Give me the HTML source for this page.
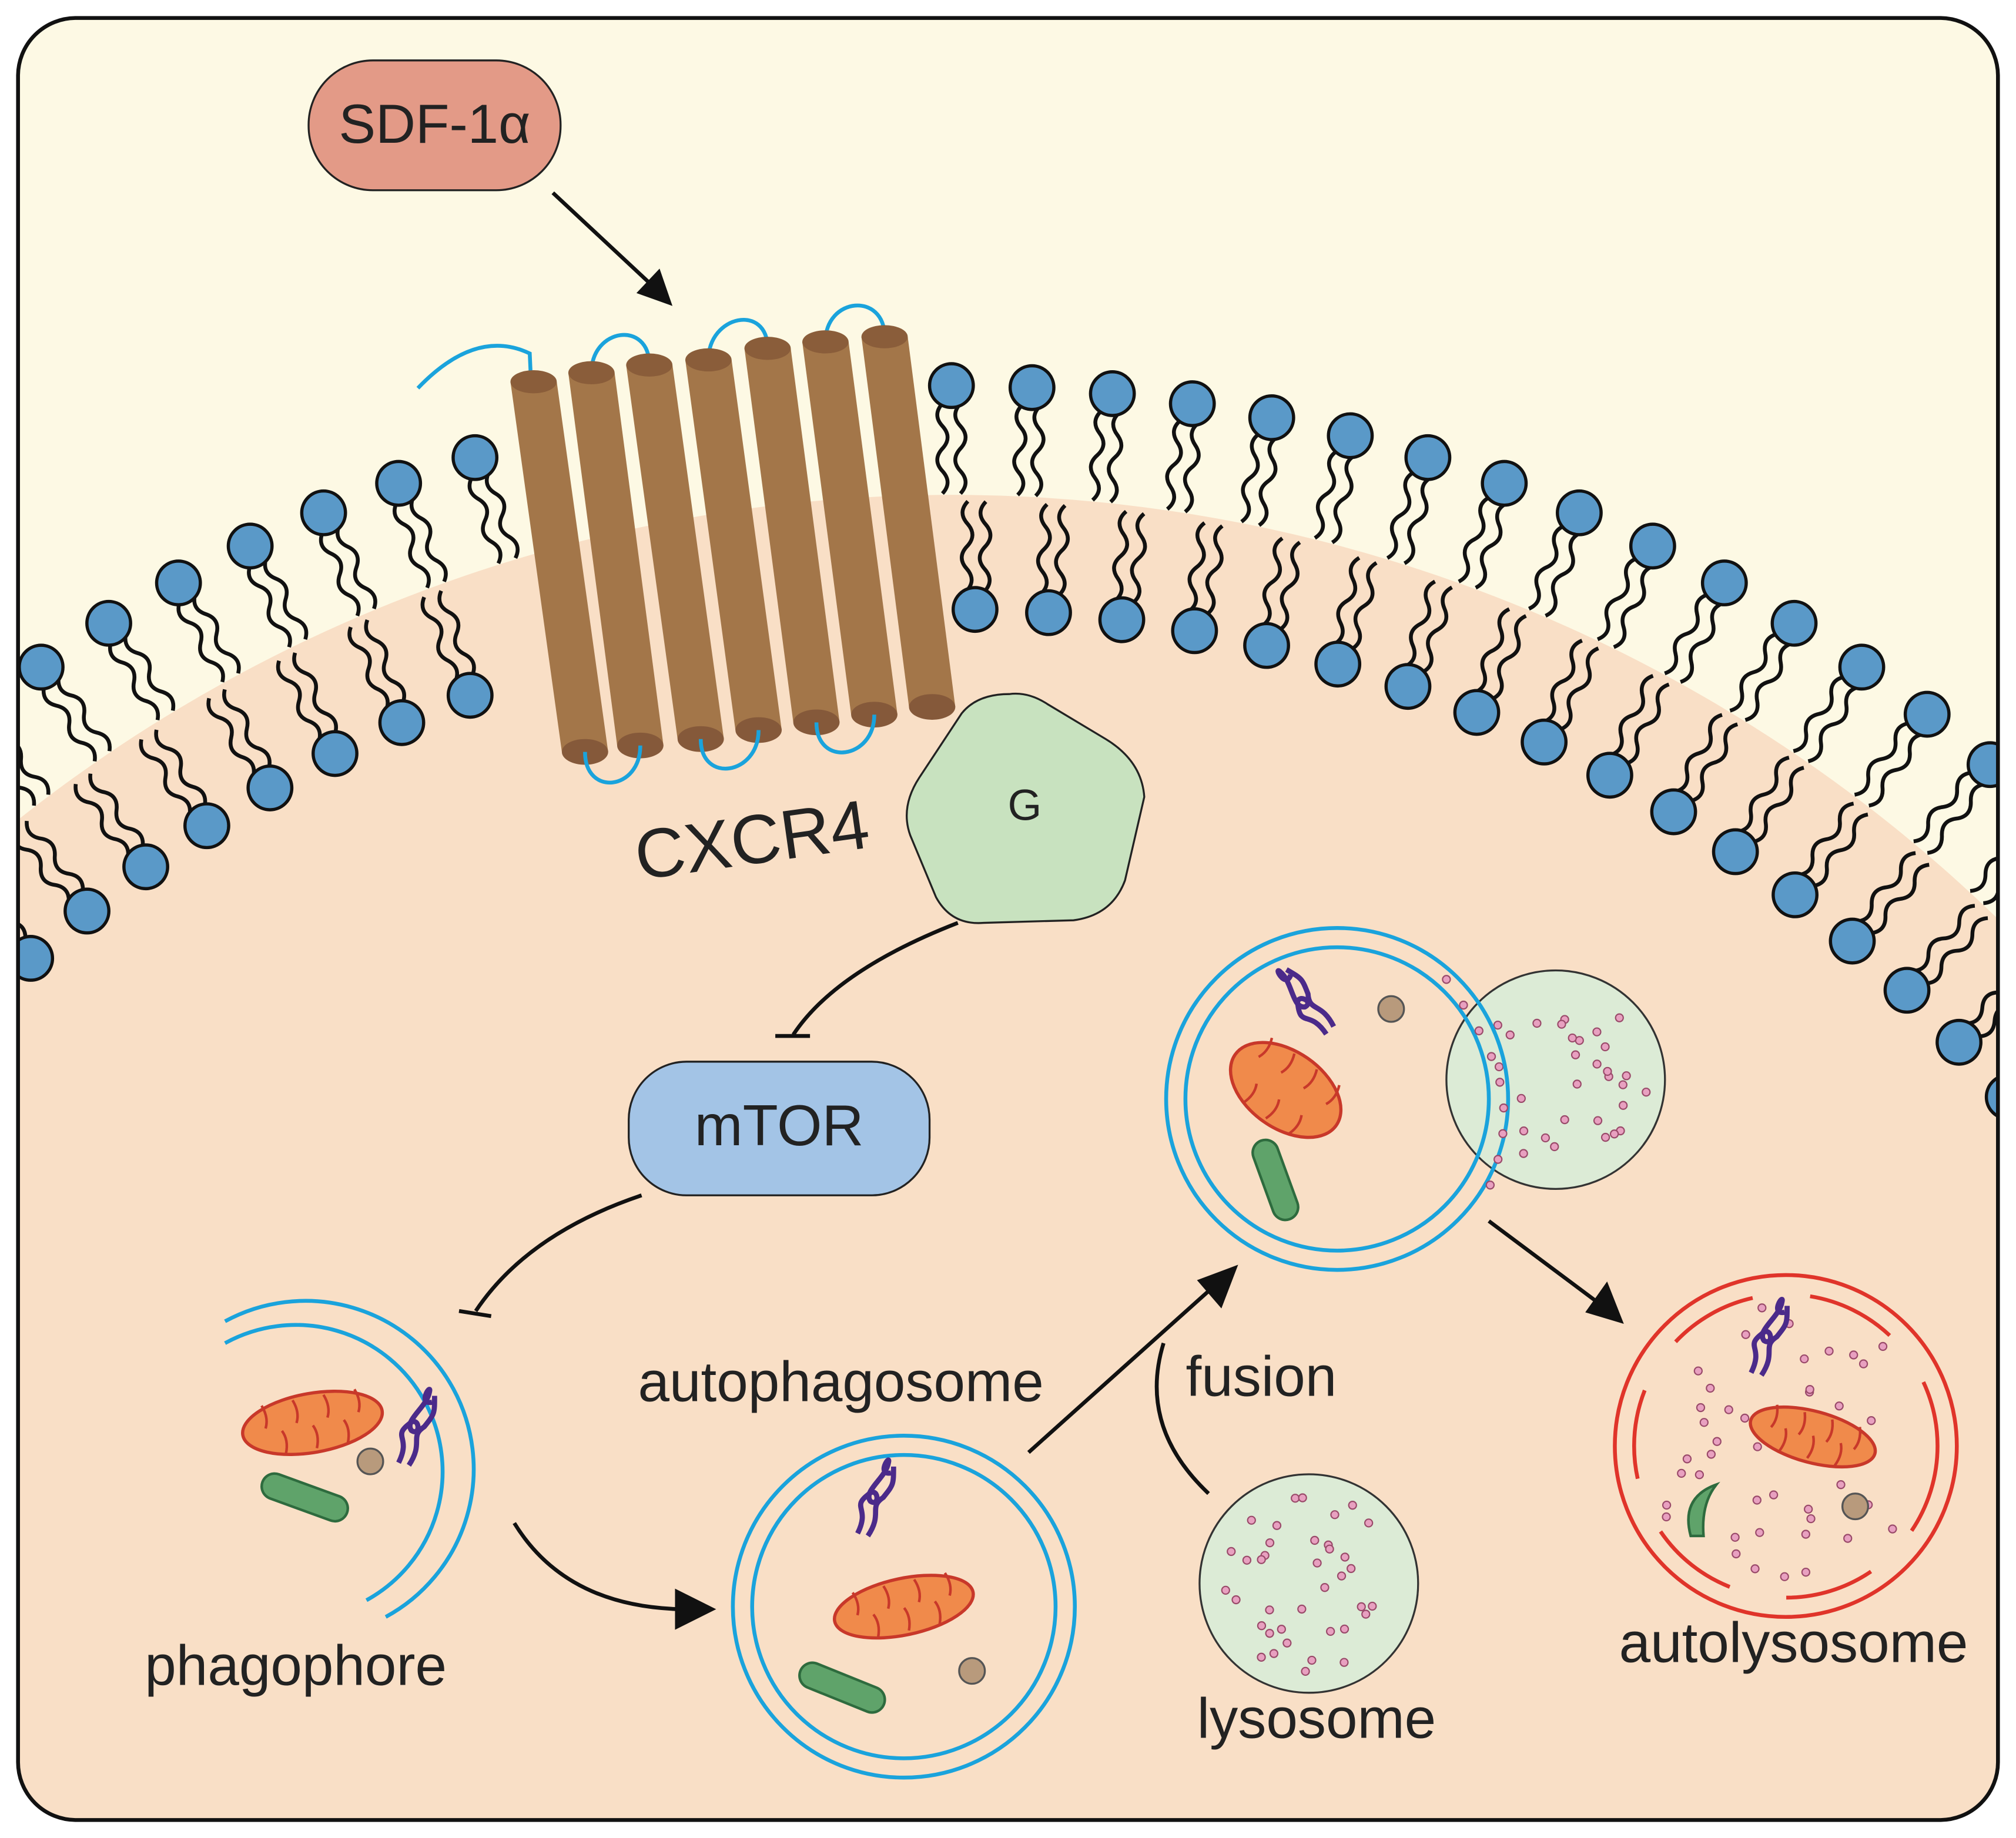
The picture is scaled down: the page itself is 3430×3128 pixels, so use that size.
<!DOCTYPE html>
<html><head><meta charset="utf-8"><style>
html,body{margin:0;padding:0;background:#fff;overflow:hidden;width:3430px;height:3128px}
svg{display:block}
text{font-family:"Liberation Sans",sans-serif}
</style></head><body>
<svg id="s" width="3430" height="3128" viewBox="0 0 1568 1430" xmlns="http://www.w3.org/2000/svg">
<defs>
<clipPath id="c"><rect x="14" y="14" width="1540" height="1402" rx="45"/></clipPath>
</defs>
<rect x="14" y="14" width="1540" height="1402" rx="45" fill="#fdf9e4"/>
<g clip-path="url(#c)">
<circle cx="740" cy="1554" r="1169" fill="#f9dfc6"/>
<g id="lip"></g>
</g>
<rect x="14" y="14" width="1540" height="1402" rx="45" fill="none" stroke="#111" stroke-width="3"/>

<g id="rec"></g>

<path d="M785,540 Q800,538 815,548 L860,575 Q888,592 890,620 L875,685 Q865,712 835,716 L765,718 Q740,720 728,698 L708,650 Q700,628 715,605 L748,555 Q760,540 785,540Z" fill="#c8e2bf" stroke="#222" stroke-width="1.5"/>
<text x="797" y="638" font-size="34" text-anchor="middle" fill="#222">G</text>
<text x="585" y="672" font-size="54" text-anchor="middle" fill="#222" transform="rotate(-8 585 655)">CXCR4</text>

<rect x="240" y="47" width="196" height="101" rx="50" fill="#e39a87" stroke="#222" stroke-width="1.5"/>
<text x="338" y="111" font-size="43" text-anchor="middle" fill="#222">SDF-1α</text>
<line x1="430" y1="150" x2="505" y2="220" stroke="#111" stroke-width="3"/>
<polygon points="523,238 495,228 513,209" fill="#111"/>

<path d="M745,718 Q650,755 617,805" fill="none" stroke="#111" stroke-width="3"/>
<line x1="603" y1="806" x2="630" y2="806" stroke="#111" stroke-width="3"/>
<rect x="489" y="826" width="234" height="104" rx="45" fill="#a3c4e6" stroke="#222" stroke-width="1.5"/>
<text x="606" y="891" font-size="45" text-anchor="middle" fill="#222">mTOR</text>
<path d="M499,930 Q410,960 370,1020" fill="none" stroke="#111" stroke-width="3"/>
<line x1="357" y1="1020" x2="382" y2="1024" stroke="#111" stroke-width="3"/>

<path d="M175,1045 A110,110 0 1 1 285,1245" fill="none" stroke="#1aa3dc" stroke-width="3"/>
<path d="M175,1028 A128,128 0 1 1 300,1258" fill="none" stroke="#1aa3dc" stroke-width="3"/>
<text x="230" y="1311" font-size="44" text-anchor="middle" fill="#222">phagophore</text>
<path d="M400,1185 Q440,1250 530,1252" fill="none" stroke="#111" stroke-width="3"/>
<polygon points="557,1252 525,1236 525,1268" fill="#111"/>

<circle cx="703" cy="1250" r="133" fill="none" stroke="#1aa3dc" stroke-width="3"/>
<circle cx="703" cy="1250" r="118" fill="none" stroke="#1aa3dc" stroke-width="3"/>
<text x="654" y="1090" font-size="44" text-anchor="middle" fill="#222">autophagosome</text>
<line x1="800" y1="1130" x2="945" y2="1000" stroke="#111" stroke-width="3"/>
<polygon points="963,984 931,996 950,1018" fill="#111"/>
<path d="M940,1162 Q885,1110 905,1045" fill="none" stroke="#111" stroke-width="3"/>
<text x="981" y="1086" font-size="44" text-anchor="middle" fill="#222">fusion</text>

<circle cx="1018" cy="1232" r="85" fill="#dcebd6" stroke="#333" stroke-width="1.5"/>
<g id="ly1"></g>
<text x="1024" y="1352" font-size="44" text-anchor="middle" fill="#222">lysosome</text>

<circle cx="1210" cy="840" r="85" fill="#dcebd6" stroke="#333" stroke-width="1.5"/>
<g id="ly2"></g>
<circle cx="1040" cy="855" r="133" fill="none" stroke="#1aa3dc" stroke-width="3"/>
<circle cx="1040" cy="855" r="118" fill="none" stroke="#1aa3dc" stroke-width="3"/>
<line x1="1158" y1="950" x2="1245" y2="1015" stroke="#111" stroke-width="3"/>
<polygon points="1263,1030 1233,1021 1250,997" fill="#111"/>

<circle cx="1389" cy="1125" r="133" fill="none" stroke="#e0342a" stroke-width="3"/>
<circle cx="1389" cy="1125" r="118" fill="none" stroke="#e0342a" stroke-width="3" stroke-dasharray="70 45"/>
<g id="ly3"></g>
<text x="1395" y="1293" font-size="44" text-anchor="middle" fill="#222">autolysosome</text>

<g id="org"></g>
</svg>
<script>
var NS="http://www.w3.org/2000/svg";
function el(p,t,a){var e=document.createElementNS(NS,t);for(var k in a)e.setAttribute(k,a[k]);p.appendChild(e);return e;}
var lip=document.getElementById('lip');
var cx=740,cy=1554;
function wavy(x,y,ux,uy,len){
 var vx=-uy,vy=ux,d="M"+x+","+y;var n=4;
 for(var i=1;i<=n;i++){var t=len*i/n,s=(i%2?1:-1)*8;
  var qx=x+ux*(t-len/(2*n))+vx*s,qy=y+uy*(t-len/(2*n))+vy*s;
  d+=" Q"+qx.toFixed(1)+","+qy.toFixed(1)+" "+(x+ux*t).toFixed(1)+","+(y+uy*t).toFixed(1);}
 return d;}
function lipid(R,th,dir){
 var sx=Math.sin(th),sy=-Math.cos(th);
 var hx=cx+R*sx,hy=cy+R*sy;
 if(hx>390&&hx<735&&hy<620)return;
 var ux=-sx*dir,uy=-sy*dir,vx=-uy,vy=ux;
 for(var k=-1;k<=1;k+=2){
  var bx=hx+ux*14+vx*k*7,by=hy+uy*14+vy*k*7;
  el(lip,'path',{d:wavy(bx,by,ux,uy,70),fill:'none',stroke:'#111','stroke-width':3});}
 el(lip,'circle',{cx:hx,cy:hy,r:17,fill:'#5a99c8',stroke:'#111','stroke-width':2.5});
}
for(var th=-0.95;th<1.0;th+=0.05)lipid(1254,th,1);
for(var th=-0.99;th<1.05;th+=0.053)lipid(1080,th,-1);
var rec=document.getElementById('rec');
var tops=[[415,297],[460,290],[505,284],[551,280],[597,271],[642,266],[688,262]];
var bots=[[455,585],[498,580],[545,575],[590,568],[635,562],[680,556],[725,550]];
var blue={stroke:'#1aa3dc','stroke-width':3,fill:'none'};
el(rec,'path',Object.assign({d:"M325,302 Q370,255 412,275 L413,297"},blue));
[[1,2],[3,4],[5,6]].forEach(function(p){var a=tops[p[0]],b=tops[p[1]];
 el(rec,'path',Object.assign({d:"M"+a[0]+","+a[1]+" C"+a[0]+","+(a[1]-35)+" "+b[0]+","+(b[1]-35)+" "+b[0]+","+b[1]},blue));});
for(var i=0;i<7;i++){var a=tops[i],b=bots[i],w=18;
 el(rec,'polygon',{points:(a[0]-w)+","+a[1]+" "+(a[0]+w)+","+a[1]+" "+(b[0]+w)+","+b[1]+" "+(b[0]-w)+","+b[1],fill:'#a37649'});
 el(rec,'ellipse',{cx:a[0],cy:a[1],rx:w,ry:9,fill:'#8a5d3a'});
 el(rec,'ellipse',{cx:b[0],cy:b[1],rx:w,ry:10,fill:'#85593a'});}
[[0,1],[2,3],[4,5]].forEach(function(p){var a=bots[p[0]],b=bots[p[1]];
 el(rec,'path',Object.assign({d:"M"+a[0]+","+a[1]+" C"+a[0]+","+(a[1]+35)+" "+b[0]+","+(b[1]+35)+" "+b[0]+","+b[1]},blue));});
function dots(id,x,y,r,n){var g=document.getElementById(id);var s=7+x;
 function rnd(){s=(s*9301+49297)%233280;return s/233280;}
 for(var i=0;i<n;i++){var a=rnd()*6.283,d=Math.sqrt(rnd())*r;
  el(g,'circle',{cx:x+d*Math.cos(a),cy:y+d*Math.sin(a),r:3,fill:'#e8a0c0',stroke:'#9a4a6a','stroke-width':1});}}
dots('ly1',1018,1232,70,38);dots('ly2',1215,840,68,30);dots('ly3',1389,1125,110,45);
var org=document.getElementById('org');
function mito(x,y,rx,ry,rot){var g=el(org,'g',{transform:"translate("+x+","+y+") rotate("+rot+")"});
 el(g,'ellipse',{cx:0,cy:0,rx:rx,ry:ry,fill:'#f08a4b',stroke:'#c8382a','stroke-width':2.5});
 for(var i=-3;i<=3;i++){var xx=i*rx/4.5;el(g,'path',{d:"M"+xx+","+(i%2?-ry+3:ry-3)+" q4,"+(i%2?10:-10)+" 0,"+(i%2?18:-18),fill:'none',stroke:'#c8382a','stroke-width':2});}}
function caps(x,y,l,rot){el(org,'line',{x1:x-l/2,y1:y,x2:x+l/2,y2:y,stroke:'#2e6b3e','stroke-width':22,'stroke-linecap':'round',transform:"rotate("+rot+" "+x+" "+y+")"});
 el(org,'line',{x1:x-l/2,y1:y,x2:x+l/2,y2:y,stroke:'#5fa36a','stroke-width':18,'stroke-linecap':'round',transform:"rotate("+rot+" "+x+" "+y+")"});}
function dot(x,y){el(org,'circle',{cx:x,cy:y,r:10,fill:'#b89a7c',stroke:'#555','stroke-width':1.5});}
function purp(x,y,rot){el(org,'path',{d:"M"+(x-18)+","+(y+18)+" c10,-20 -5,-20 8,-30 c8,-8 10,10 2,5 c-6,-8 12,-18 14,-30 c2,-8 -10,10 2,8 M"+(x-10)+","+(y+20)+" c12,-18 0,-22 12,-30 c8,-10 8,-10 8,-24",fill:'none',stroke:'#4b2a8a','stroke-width':4,transform:"rotate("+rot+" "+x+" "+y+")"});}
mito(243,1107,55,23,-10);caps(237,1165,50,20);dot(288,1137);purp(328,1120,0);
mito(703,1250,55,22,-12);caps(655,1313,50,22);dot(756,1300);purp(685,1175,0);
mito(1000,848,48,30,35);caps(992,918,45,70);dot(1082,785);purp(1025,780,-60);
mito(1410,1118,50,20,15);el(org,'path',{d:"M1315,1195 q-8,-30 20,-40 q-12,15 -10,40z",fill:'#5fa36a',stroke:'#2e6b3e','stroke-width':2});dot(1443,1172);purp(1380,1050,0);
for(var i=0;i<9;i++){el(org,'circle',{cx:1125+Math.sin(i*0.35)*30+i*3,cy:762+i*20,r:3,fill:'#e8a0c0',stroke:'#9a4a6a','stroke-width':1});}
</script>
</body></html>
